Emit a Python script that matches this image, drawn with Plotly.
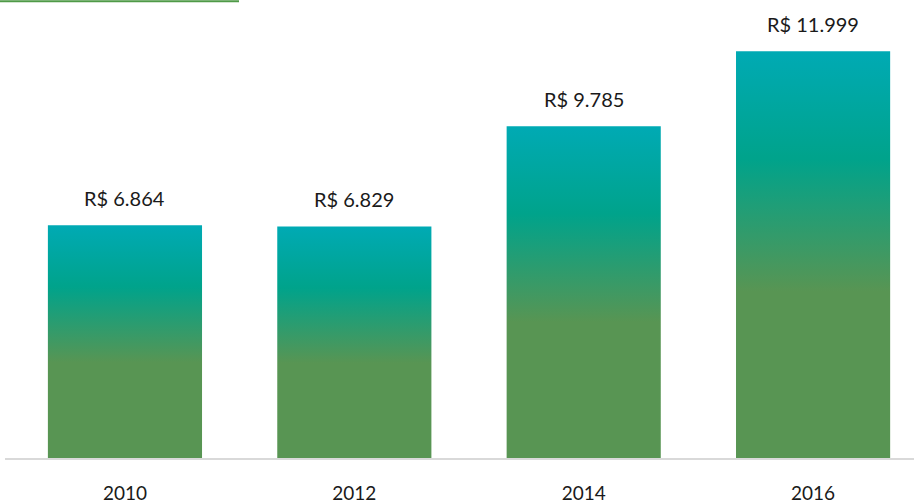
import plotly.graph_objects as go

years = ["2010", "2012", "2014", "2016"]
values = [6864, 6829, 9785, 11999]
labels = ["R$ " + f"{v:,}".replace(",", ".") for v in values]

bar_width = 0.672
gradient = [[0, "#589553"], [0.41, "#589553"], [0.735, "#00A38B"], [1, "#00AAB4"]]
font_family = "Lato, sans-serif"

fig = go.Figure()
for i, v in enumerate(values):
    xl, xr = i - bar_width / 2, i + bar_width / 2
    fig.add_trace(go.Scatter(
        x=[xl, xr, xr, xl, xl], y=[0, 0, v, v, 0],
        mode="lines", line=dict(width=0), fill="toself",
        fillgradient=dict(type="vertical", colorscale=gradient),
        hoverinfo="skip", showlegend=False,
    ))

for i, (v, t) in enumerate(zip(values, labels)):
    fig.add_annotation(x=i, y=v, text=t, showarrow=False, yanchor="bottom",
                       yshift=13, font=dict(size=20, color="#1a1a1a", family=font_family))

fig.add_shape(type="line", xref="paper", yref="paper",
              x0=-5 / 909, x1=234 / 909, y0=1 - 1.2 / 465, y1=1 - 1.2 / 465,
              line=dict(color="#4F9A47", width=2))

fig.update_layout(
    width=914, height=504,
    margin=dict(l=5, r=0, t=0, b=39),
    paper_bgcolor="white", plot_bgcolor="white",
    showlegend=False,
    xaxis=dict(range=[-0.523, 3.440], tickvals=list(range(len(years))), ticktext=years,
               showgrid=False, zeroline=False, showline=True, linecolor="#D9D9D9", linewidth=2,
               ticks="", ticklabelstandoff=17,
               tickfont=dict(size=19, color="#1a1a1a", family=font_family)),
    yaxis=dict(range=[0, 13510], visible=False, showgrid=False, zeroline=False),
)

fig.write_html("out.html", config={"displayModeBar": False},
               post_script="document.body.style.margin='0';document.body.style.overflow='hidden';")
